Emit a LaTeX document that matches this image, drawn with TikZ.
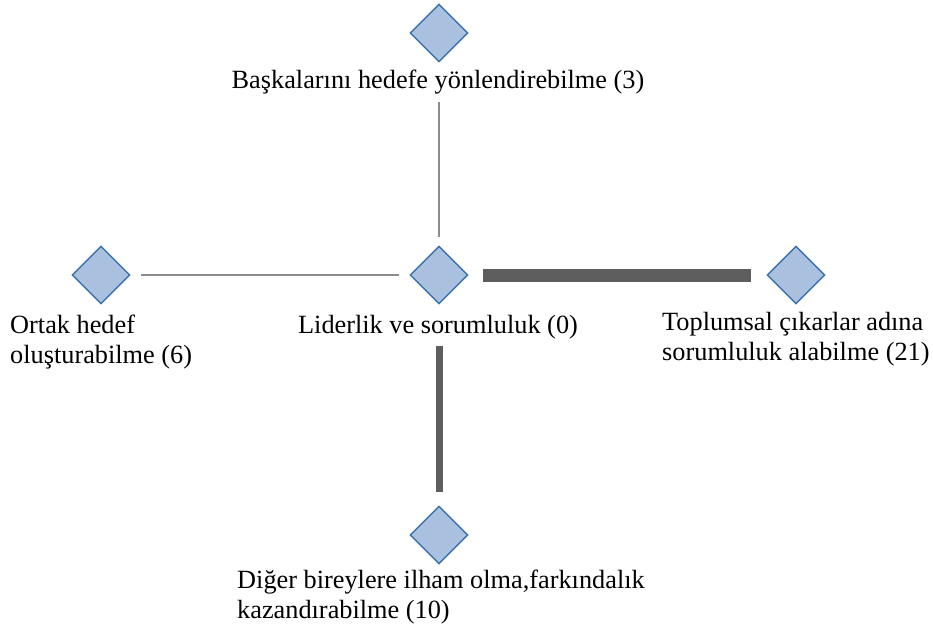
\documentclass[tikz,border=0pt]{standalone}
\usepackage{fontspec}
\setmainfont{Liberation Serif}
\usetikzlibrary{shapes.geometric}
\definecolor{nodefill}{HTML}{A9C1DE}
\definecolor{nodeedge}{HTML}{3C72AE}
\definecolor{thinline}{HTML}{8C8C8C}
\definecolor{thickline}{HTML}{5E5E5E}
\begin{document}
\begin{tikzpicture}[x=1pt,y=-1pt,
  code/.style={diamond,aspect=1,minimum width=58pt,minimum height=58pt,inner sep=0pt,
    draw=nodeedge,line width=1.4pt,fill=nodefill},
  lbl/.style={inner sep=0pt,font=\fontsize{26.3}{30}\selectfont},
  weak/.style={draw=thinline,line width=1.2pt},
  strong/.style={draw=thickline}]
\useasboundingbox (0,0) rectangle (933,633);
% code nodes
\node[code] (c) at (439,275) {};
\node[code] (t) at (439,33) {};
\node[code] (l) at (101,275) {};
\node[code] (r) at (796,275) {};
\node[code] (b) at (439,535) {};
% labels (multi-line labels are placed by the baseline of their last line)
\node[lbl,anchor=base] (tl) at (438,88) {Başkalarını hedefe yönlendirebilme (3)};
\node[lbl,anchor=base] (cl) at (438,333) {Liderlik ve sorumluluk (0)};
\node[lbl,anchor=base west,align=left] (ll) at (10,363) {Ortak hedef\\oluşturabilme (6)};
\node[lbl,anchor=base west,align=left] (rl) at (662,360) {Toplumsal çıkarlar adına\\sorumluluk alabilme (21)};
\node[lbl,anchor=base west,align=left] (bl) at (237,618) {Diğer bireylere ilham olma,farkındalık\\kazandırabilme (10)};
% connectors
\draw[weak,shorten <=8pt,shorten >=39pt] (c) -- (t);
\draw[weak,shorten <=10pt,shorten >=10pt] (c) -- (l);
\draw[strong,line width=13pt,shorten <=14pt,shorten >=15pt] (c) -- (r);
\draw[strong,line width=7pt,shorten <=41pt,shorten >=13pt] (c) -- (b);
\end{tikzpicture}
\end{document}
